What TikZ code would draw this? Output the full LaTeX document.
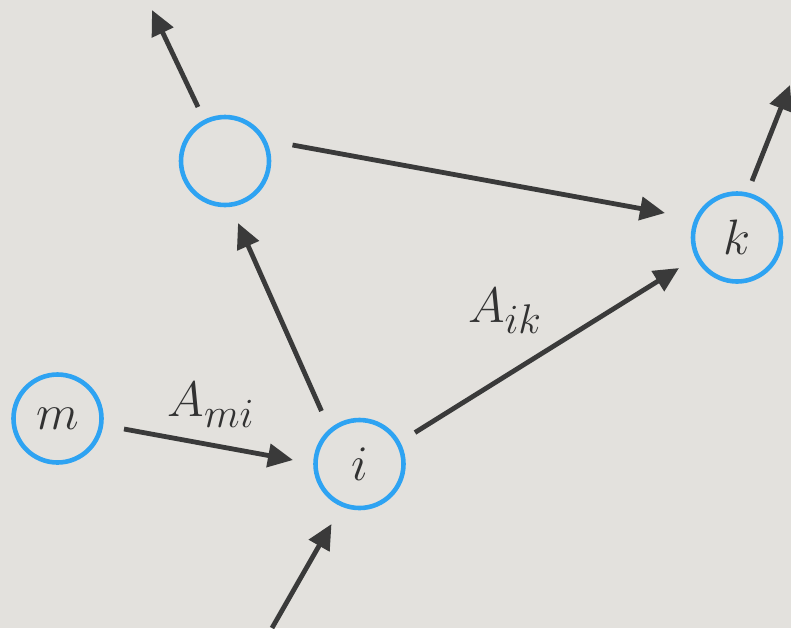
\documentclass[tikz,border=0pt]{standalone}
\usetikzlibrary{arrows.meta,calc}
\definecolor{bgc}{RGB}{227,225,221}
\definecolor{ringc}{RGB}{46,163,242}
\definecolor{arrc}{RGB}{58,58,58}
\definecolor{txtc}{RGB}{50,50,50}
\tikzset{
  vert/.style={circle,draw=ringc,line width=2.3pt,minimum size=88pt*0.5,inner sep=0pt,
    text=txtc,font=\fontsize{28}{30}\selectfont},
  arr/.style={draw=arrc,line width=2.4pt,-{Triangle[length=12.5pt,width=11.5pt]}},
  lbl/.style={font=\fontsize{28}{30}\selectfont,text=txtc}
}
\begin{document}
\begin{tikzpicture}[x=0.5pt,y=-0.5pt]
\fill[bgc] (0,0) rectangle (791,628);
\useasboundingbox (0,0) rectangle (791,628);
\node[vert] (t) at (225,161) {};
\node[vert] (m) at (57.5,418.5) {$m$};
\node[vert] (i) at (359.5,464) {$i$};
\node[vert] (k) at (737,237.5) {$k$};
\coordinate (tout) at (152,10);
\coordinate (kout) at (790,85);
\coordinate (bin) at (272,628);
\node[lbl] (lmi) at (211,405) {$A_{mi}$};
\node[lbl] (lik) at (505,311) {$A_{ik}$};
\draw[arr] ($(t)+(-27,-54)$) -- (tout);
\draw[arr] ($(t)+(67.5,-16)$) -- ($(k)+(-72,-24.5)$);
\draw[arr] ($(i)+(-38,-53)$) -- ($(t)+(13,62)$);
\draw[arr] ($(m)+(66.5,10.5)$) -- ($(i)+(-66.5,-4)$);
\draw[arr] (bin) -- ($(i)+(-28,60)$);
\draw[arr] ($(i)+(55.5,-31.5)$) -- ($(k)+(-58,30.5)$);
\draw[arr] ($(k)+(15,-56.5)$) -- (kout);
\end{tikzpicture}
\end{document}
